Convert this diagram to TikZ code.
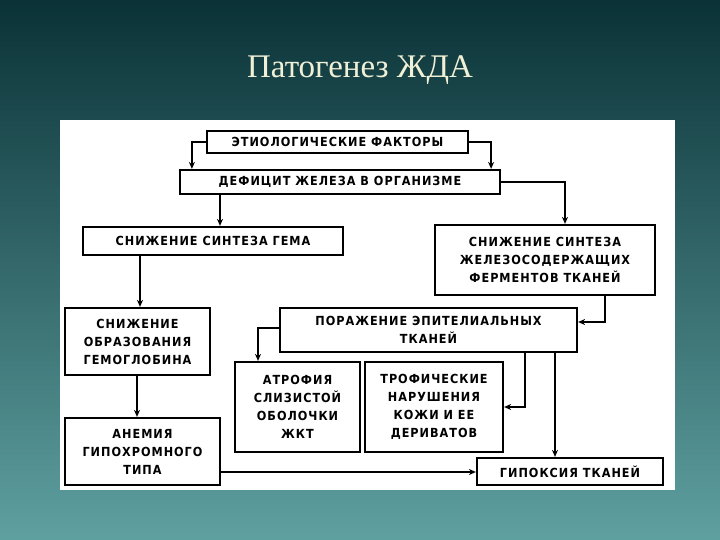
\documentclass[tikz,border=0pt]{standalone}
\usepackage{fontspec}
\setmainfont{Liberation Serif}
\newfontfamily\bx{DejaVu Sans Condensed}[LetterSpace=8]
\usetikzlibrary{arrows.meta}
\begin{document}
\begin{tikzpicture}[x=1pt,y=-1pt,
 bxs/.style={draw=black,line width=2.2pt,fill=white,inner sep=0pt,font=\bx\bfseries\fontsize{12.5}{18}\selectfont,align=center,text=black},
 arr/.style={line width=2.2pt,-{Stealth[length=7pt,width=6pt]}}]
\shade[top color={rgb,255:red,10;green,50;blue,55}, bottom color={rgb,255:red,95;green,160;blue,160}] (0,0) rectangle (720,540);
\node[text={rgb,255:red,240;green,240;blue,215},font=\fontsize{33}{38}\selectfont] (title) at (360,70) {Патогенез ЖДА};
\fill[white] (60,120) rectangle (675,490);
\node[bxs,minimum width=261,minimum height=22] (A) at (337.5,142) {ЭТИОЛОГИЧЕСКИЕ ФАКТОРЫ};
\node[bxs,minimum width=320,minimum height=24] (B) at (340,182) {ДЕФИЦИТ ЖЕЛЕЗА В ОРГАНИЗМЕ};
\node[bxs,minimum width=260,minimum height=28] (C) at (213,241) {СНИЖЕНИЕ СИНТЕЗА ГЕМА};
\node[bxs,minimum width=220,minimum height=70] (D) at (545,260) {СНИЖЕНИЕ СИНТЕЗА\\ЖЕЛЕЗОСОДЕРЖАЩИХ\\ФЕРМЕНТОВ ТКАНЕЙ};
\node[bxs,minimum width=145,minimum height=67] (E) at (137.5,341.5) {СНИЖЕНИЕ\\ОБРАЗОВАНИЯ\\ГЕМОГЛОБИНА};
\node[bxs,minimum width=297,minimum height=44] (F) at (428.5,330) {ПОРАЖЕНИЕ ЭПИТЕЛИАЛЬНЫХ\\ТКАНЕЙ};
\node[bxs,minimum width=125,minimum height=90] (G) at (297.5,407) {АТРОФИЯ\\СЛИЗИСТОЙ\\ОБОЛОЧКИ\\ЖКТ};
\node[bxs,minimum width=138,minimum height=90] (H) at (434,407) {ТРОФИЧЕСКИЕ\\НАРУШЕНИЯ\\КОЖИ И ЕЕ\\ДЕРИВАТОВ};
\node[bxs,minimum width=155,minimum height=67] (I) at (142.5,451.5) {АНЕМИЯ\\ГИПОХРОМНОГО\\ТИПА};
\node[bxs,minimum width=186,minimum height=27] (J) at (570,471.5) {ГИПОКСИЯ ТКАНЕЙ};
\draw[arr] (A.west) -| ([xshift=13]B.north west);
\draw[arr] (A.east) -| ([xshift=-10]B.north east);
\draw[arr] (B.south -| 220,0) -- (C.north -| 220,0);
\draw[arr] (B.east) -| (D.north -| 565,0);
\draw[arr] (C.south -| 140,0) -- (E.north -| 140,0);
\draw[arr] (D.south -| 605,0) |- ([yshift=8]F.east);
\draw[arr] ([yshift=2]F.west) -| (G.north -| 258,0);
\draw[arr] (F.south -| 525,0) |- (H.east);
\draw[arr] (F.south -| 555,0) -- (J.north -| 555,0);
\draw[arr] (E.south -| 137,0) -- (I.north -| 137,0);
\draw[arr] (I.east |- 0,472) -- (J.west |- 0,472);
\end{tikzpicture}
\end{document}
